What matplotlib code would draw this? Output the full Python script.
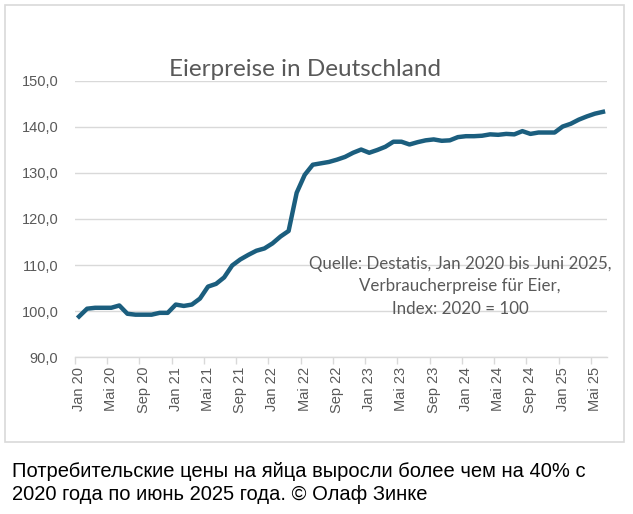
import numpy as np
import matplotlib.pyplot as plt
from matplotlib.patches import Rectangle
from matplotlib.ticker import FixedLocator, FuncFormatter

# Verbraucherpreisindex Eier, 2020 = 100, monatlich Jan 2020 - Jun 2025
months = ['Jan', 'Feb', 'Mrz', 'Apr', 'Mai', 'Jun', 'Jul', 'Aug', 'Sep', 'Okt', 'Nov', 'Dez']
years = [20, 21, 22, 23, 24, 25]
labels = [f'{m} {y}' for y in years for m in months][:66]

index_2020 = [98.8, 100.5, 100.7, 100.7, 100.7, 101.2, 99.4, 99.2, 99.2, 99.2, 99.6, 99.6]
index_2021 = [101.4, 101.1, 101.4, 102.7, 105.3, 105.9, 107.3, 109.9, 111.2, 112.2, 113.1, 113.6]
index_2022 = [114.7, 116.2, 117.4, 125.7, 129.6, 131.8, 132.1, 132.4, 132.9, 133.5, 134.4, 135.1]
index_2023 = [134.4, 135.0, 135.7, 136.8, 136.8, 136.2, 136.7, 137.1, 137.3, 137.0, 137.1, 137.8]
index_2024 = [138.0, 138.0, 138.1, 138.4, 138.3, 138.5, 138.4, 139.1, 138.5, 138.8, 138.8, 138.8]
index_2025 = [140.1, 140.7, 141.6, 142.3, 142.9, 143.3]

values = index_2020 + index_2021 + index_2022 + index_2023 + index_2024 + index_2025
x = np.arange(len(values))

grey = '#595959'
fig = plt.figure(figsize=(6.33, 5.14), dpi=100)

# Rahmen um das Diagramm
fig.patches.append(Rectangle((5 / 633, 1 - 442 / 514), 619 / 633, 437 / 514,
                             transform=fig.transFigure, fill=False,
                             edgecolor='#d9d9d9', linewidth=1.2))

ax = fig.add_axes([75 / 633, 1 - 357 / 514, 532 / 633, 276 / 514])
ax.plot(x, values, color='#1b5e7e', linewidth=3.2, solid_joinstyle='round', zorder=3)

ax.set_xlim(-0.5, len(values) - 0.5)
ax.set_ylim(90, 150)
ax.set_yticks(np.arange(90, 151, 10))
ax.yaxis.set_major_formatter(FuncFormatter(lambda v, p: f'{v:.1f}'.replace('.', ',')))
ax.grid(axis='y', color='#d9d9d9', linewidth=1.0)
ax.set_axisbelow(True)

tick_pos = x[::4]
ax.set_xticks(tick_pos)
ax.set_xticklabels([labels[i] for i in tick_pos], rotation=90)
ax.xaxis.set_minor_locator(FixedLocator(np.arange(-0.5, len(values), 4)))
ax.tick_params(axis='x', which='major', length=0, pad=7)
ax.tick_params(axis='x', which='minor', length=5, color='#d9d9d9', width=1)
ax.tick_params(axis='y', length=0, pad=12)
for lab in ax.get_xticklabels() + ax.get_yticklabels():
    lab.set_fontfamily('Liberation Sans')
    lab.set_fontsize(10.5)
    lab.set_color(grey)

for side in ['top', 'right', 'left']:
    ax.spines[side].set_visible(False)
ax.spines['bottom'].set_color('#d9d9d9')
ax.spines['bottom'].set_linewidth(1.0)

fig.text(305 / 633, 1 - 70 / 514, 'Eierpreise in Deutschland', ha='center', va='center',
         fontsize=17.5, color=grey, family='Lato')
fig.text(460 / 633, 1 - 286 / 514,
         'Quelle: Destatis, Jan 2020 bis Juni 2025,\nVerbraucherpreise für Eier,\nIndex: 2020 = 100',
         ha='center', va='center', fontsize=12.2, color=grey, family='Lato', linespacing=1.5)

fig.text(12 / 633, 1 - 483 / 514,
         'Потребительские цены на яйца выросли более чем на 40% с\n2020 года по июнь 2025 года. © Олаф Зинке',
         ha='left', va='center', fontsize=14.5, color='black',
         family='Liberation Sans', linespacing=1.25)

fig.savefig('out.png', dpi=100)
